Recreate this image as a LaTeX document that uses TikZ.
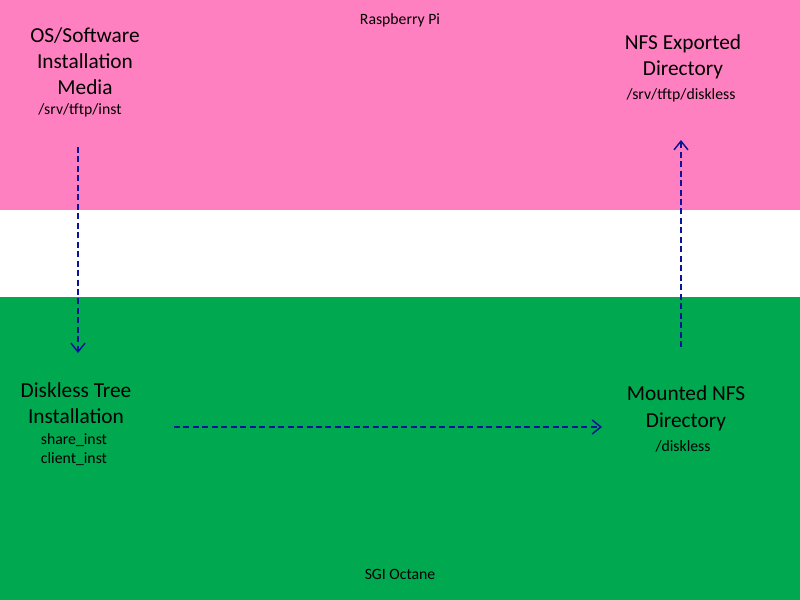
\documentclass[tikz,border=0pt]{standalone}
\usepackage{fontspec}
\setmainfont{Carlito}
\usetikzlibrary{arrows.meta}
\definecolor{pinkband}{RGB}{255,128,192}
\definecolor{greenband}{RGB}{0,168,80}
\definecolor{navy}{RGB}{10,20,150}
\tikzset{
  big/.style={anchor=base,inner sep=0pt,font=\fontsize{16}{19.5}\selectfont},
  small/.style={anchor=base,inner sep=0pt,font=\fontsize{11.8}{14.3}\selectfont},
  flow/.style={draw=navy,line width=1.1pt,dash pattern=on 4.5pt off 2.6pt,-{Straight Barb[length=6.5pt,width=10.5pt,line width=1.1pt]}}
}
\begin{document}
\begin{tikzpicture}[x=0.75pt,y=-0.75pt]
\useasboundingbox (0,0) rectangle (800,600);
\fill[pinkband] (0,0) rectangle (800,210);
\fill[white] (0,210) rectangle (800,297);
\fill[greenband] (0,297) rectangle (800,600);

\node[small] (rpi) at (400,24) {Raspberry Pi};
\node[small] (sgi) at (400,579) {SGI Octane};

\node[big] (os1) at (85,42) {OS/Software};
\node[big] (os2) at (85,68) {Installation};
\node[big] (os3) at (85,94) {Media};
\node[small] (os4) at (80,114) {/srv/tftp/inst};

\node[big] (nfs1) at (683,49) {NFS Exported};
\node[big] (nfs2) at (683,75) {Directory};
\node[small] (nfs3) at (681,99) {/srv/tftp/diskless};

\node[big] (dt1) at (76,397) {Diskless Tree};
\node[big] (dt2) at (76,423) {Installation};
\node[small] (dt3) at (74,444) {share\_inst};
\node[small] (dt4) at (74,463) {client\_inst};

\node[big] (mn1) at (686,400) {Mounted NFS};
\node[big] (mn2) at (686,427) {Directory};
\node[small] (mn3) at (683,451) {/diskless};

\coordinate (a1s) at (78,147);
\coordinate (a1e) at (78,353);
\coordinate (a2s) at (174,427);
\coordinate (a2e) at (602,427);
\coordinate (a3s) at (681,347);
\coordinate (a3e) at (681,140);

\draw[flow] (a1s) -- (a1e);
\draw[flow] (a2s) -- (a2e);
\draw[flow] (a3s) -- (a3e);
\end{tikzpicture}
\end{document}
